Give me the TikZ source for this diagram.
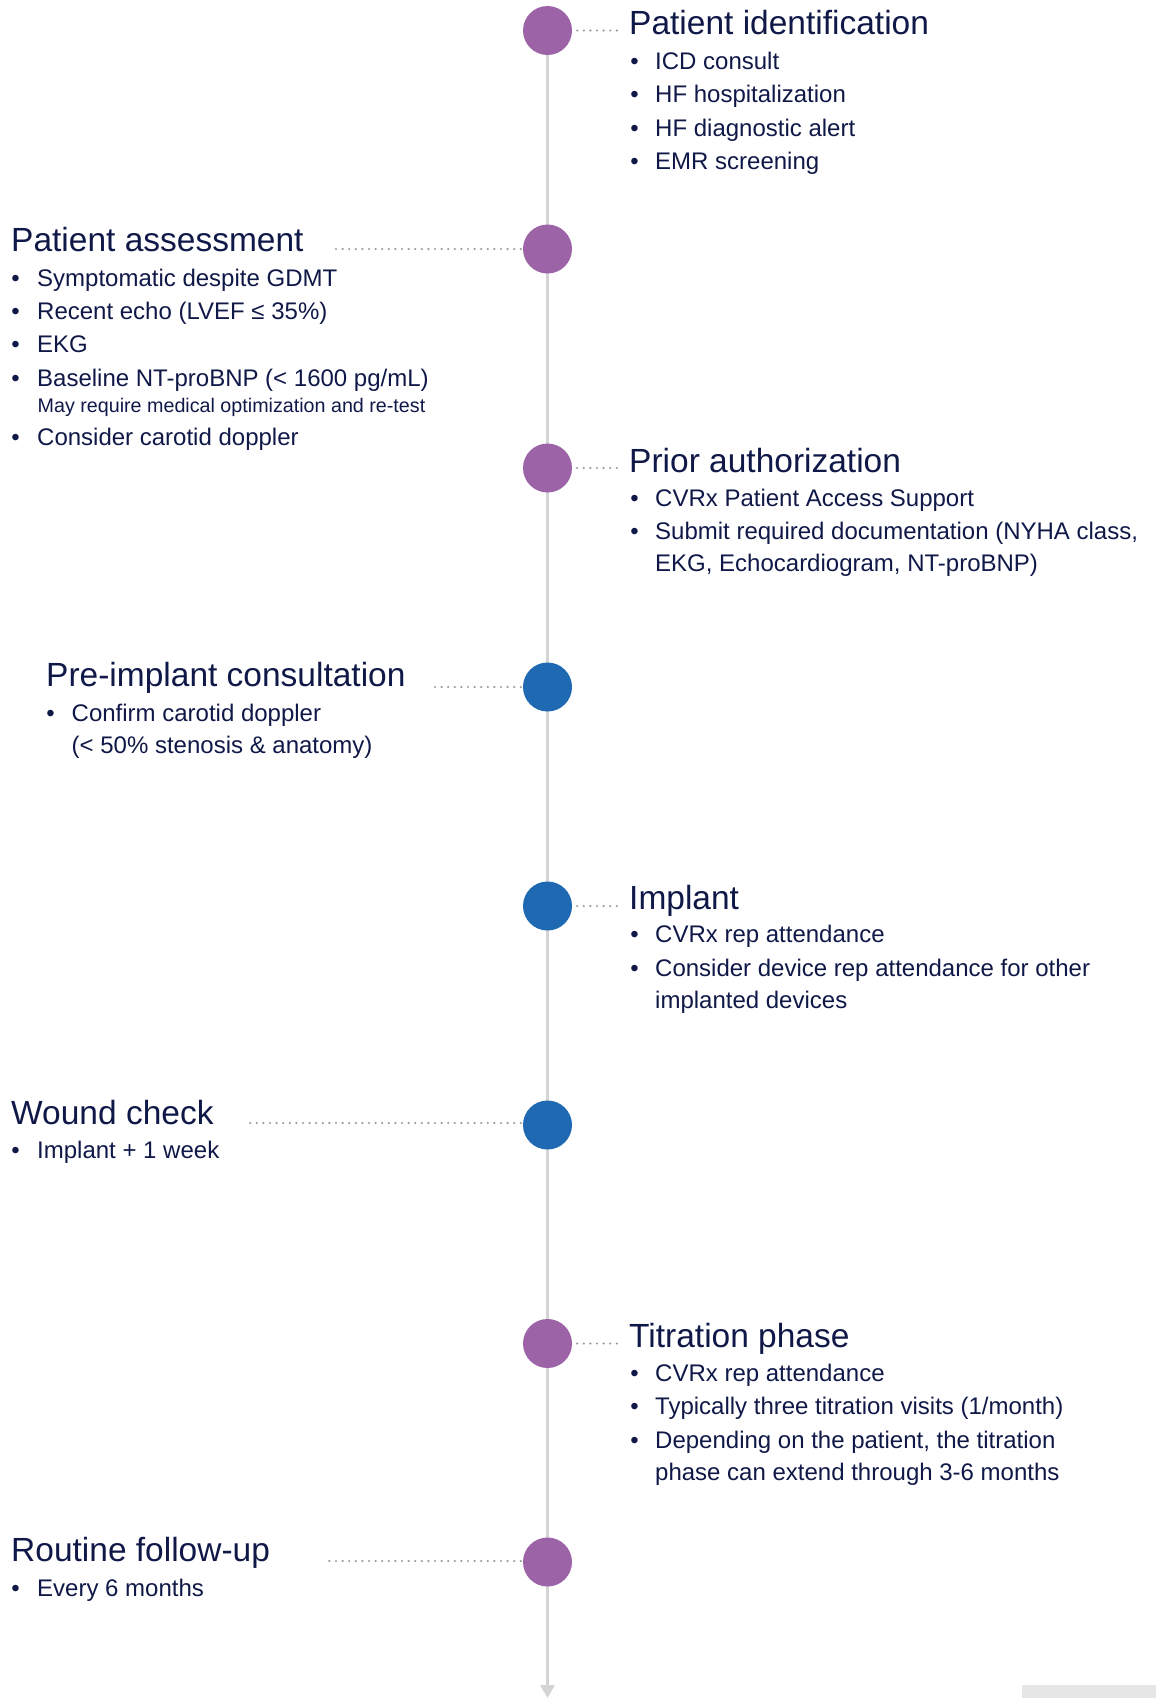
\documentclass[tikz,border=0pt]{standalone}
\usepackage{fontspec}
\setmainfont{Liberation Sans}
\usetikzlibrary{arrows.meta}
\definecolor{tnavy}{HTML}{101848}
\definecolor{tpurple}{HTML}{9C63A7}
\definecolor{tblue}{HTML}{1F69B3}
\definecolor{tline}{HTML}{D4D4D4}
\definecolor{tdot}{HTML}{9A9A9A}
\definecolor{tbox}{HTML}{E6E6E6}
\newcommand\titlefont{\fontsize{33.5}{40}\selectfont}
\newcommand\bodyfont{\fontsize{24}{29}\selectfont}
\newcommand\notefont{\fontsize{19.7}{23}\selectfont}
\newcommand\myitem[5]{%
  \node[bulletmark] (#1d) at (#2,#4) {•};
  \node[itemtext] (#1) at (#3,#4) {#5};}
\newcommand\mycont[4]{%
  \node[itemtext] (#1) at (#2,#3) {#4};}
\tikzset{
  purpledot/.style={circle, fill=tpurple, draw=none, minimum size=49pt, inner sep=0pt},
  bluedot/.style={circle, fill=tblue, draw=none, minimum size=49pt, inner sep=0pt},
  titletext/.style={anchor=base west, inner sep=0pt, font=\titlefont, text=tnavy},
  itemtext/.style={anchor=base west, inner sep=0pt, font=\bodyfont, text=tnavy},
  notetext/.style={anchor=base west, inner sep=0pt, font=\notefont, text=tnavy},
  bulletmark/.style={anchor=base, inner sep=0pt, font=\bodyfont, text=tnavy},
  timeline/.style={draw=tline, line width=3pt},
  dotline/.style={draw=tdot, line width=2.4pt, line cap=round, dash pattern=on 0pt off 6.6pt}
}
\begin{document}
\begin{tikzpicture}[x=1pt,y=-1pt]
\path[use as bounding box] (0,0) rectangle (1156,1698);
% stage circles (positions)
\coordinate (p1) at (547.5,30.5);
\coordinate (p2) at (547.5,249);
\coordinate (p3) at (547.5,468);
\coordinate (p4) at (547.5,687);
\coordinate (p5) at (547.5,906);
\coordinate (p6) at (547.5,1125);
\coordinate (p7) at (547.5,1343.5);
\coordinate (p8) at (547.5,1562);
\coordinate (tip) at (547.5,1698);
% timeline
\draw[timeline] (p1) -- (p8);
\draw[timeline, -{Triangle[width=14pt,length=13pt]}] (p8) -- (tip);
% circles
\node[purpledot] (c1) at (p1) {};
\node[purpledot] (c2) at (p2) {};
\node[purpledot] (c3) at (p3) {};
\node[bluedot]   (c4) at (p4) {};
\node[bluedot]   (c5) at (p5) {};
\node[bluedot]   (c6) at (p6) {};
\node[purpledot] (c7) at (p7) {};
\node[purpledot] (c8) at (p8) {};
% dotted connector ends
\coordinate (d1) at (620,30.5);
\coordinate (d2) at (335,249);
\coordinate (d3) at (620,468);
\coordinate (d4) at (430,687);
\coordinate (d5) at (620,906);
\coordinate (d6) at (247,1123);
\coordinate (d7) at (620,1343.5);
\coordinate (d8) at (323,1561);
\draw[dotline] ([xshift=5pt]c1.east) -- (d1);
\draw[dotline] ([xshift=-2pt]c2.west) -- (d2);
\draw[dotline] ([xshift=5pt]c3.east) -- (d3);
\draw[dotline] ([xshift=-2pt]c4.west) -- (d4);
\draw[dotline] ([xshift=5pt]c5.east) -- (d5);
\draw[dotline] ([xshift=-2pt]c6.west |- d6) -- (d6);
\draw[dotline] ([xshift=5pt]c7.east) -- (d7);
\draw[dotline] ([xshift=-2pt]c8.west |- d8) -- (d8);
% 1 Patient identification
\node[titletext] (t1) at (629,34) {Patient identification};
\myitem{i1a}{634.5}{655}{69}{ICD consult}
\myitem{i1b}{634.5}{655}{102.5}{HF hospitalization}
\myitem{i1c}{634.5}{655}{136}{HF diagnostic alert}
\myitem{i1d}{634.5}{655}{169}{EMR screening}
% 2 Patient assessment
\node[titletext] (t2) at (11,251) {Patient assessment};
\myitem{i2a}{15.5}{37}{286}{Symptomatic despite GDMT}
\myitem{i2b}{15.5}{37}{319}{Recent echo (LVEF ≤ 35\%)}
\myitem{i2c}{15.5}{37}{352.7}{EKG}
\myitem{i2d}{15.5}{37}{386}{Baseline NT-proBNP (< 1600 pg/mL)}
\node[notetext] (n2) at (37.5,412) {May require medical optimization and re-test};
\myitem{i2e}{15.5}{37}{445.7}{Consider carotid doppler}
% 3 Prior authorization
\node[titletext] (t3) at (629,472) {Prior authorization};
\myitem{i3a}{634.5}{655}{506.5}{CVRx Patient Access Support}
\myitem{i3b}{634.5}{655}{539.5}{Submit required documentation (NYHA class,}
\mycont{i3c}{655}{571}{EKG, Echocardiogram, NT-proBNP)}
% 4 Pre-implant consultation
\node[titletext] (t4) at (46,686.7) {Pre-implant consultation};
\myitem{i4a}{50.5}{71.5}{721.7}{Confirm carotid doppler}
\mycont{i4b}{71.5}{753}{(< 50\% stenosis \& anatomy)}
% 5 Implant
\node[titletext] (t5) at (629,909.3) {Implant};
\myitem{i5a}{634.5}{655}{942.7}{CVRx rep attendance}
\myitem{i5b}{634.5}{655}{976}{Consider device rep attendance for other}
\mycont{i5c}{655}{1008.3}{implanted devices}
% 6 Wound check
\node[titletext] (t6) at (11,1124.3) {Wound check};
\myitem{i6a}{15.5}{37}{1158.3}{Implant + 1 week}
% 7 Titration phase
\node[titletext] (t7) at (629,1347) {Titration phase};
\myitem{i7a}{634.5}{655}{1381}{CVRx rep attendance}
\myitem{i7b}{634.5}{655}{1414.5}{Typically three titration visits (1/month)}
\myitem{i7c}{634.5}{655}{1448}{Depending on the patient, the titration}
\mycont{i7d}{655}{1480.5}{phase can extend through 3-6 months}
% 8 Routine follow-up
\node[titletext] (t8) at (11,1561.7) {Routine follow-up};
\myitem{i8a}{15.5}{37}{1596}{Every 6 months}
% corner box
\fill[tbox] (1022,1685) rectangle (1156,1698);
\end{tikzpicture}
\end{document}
